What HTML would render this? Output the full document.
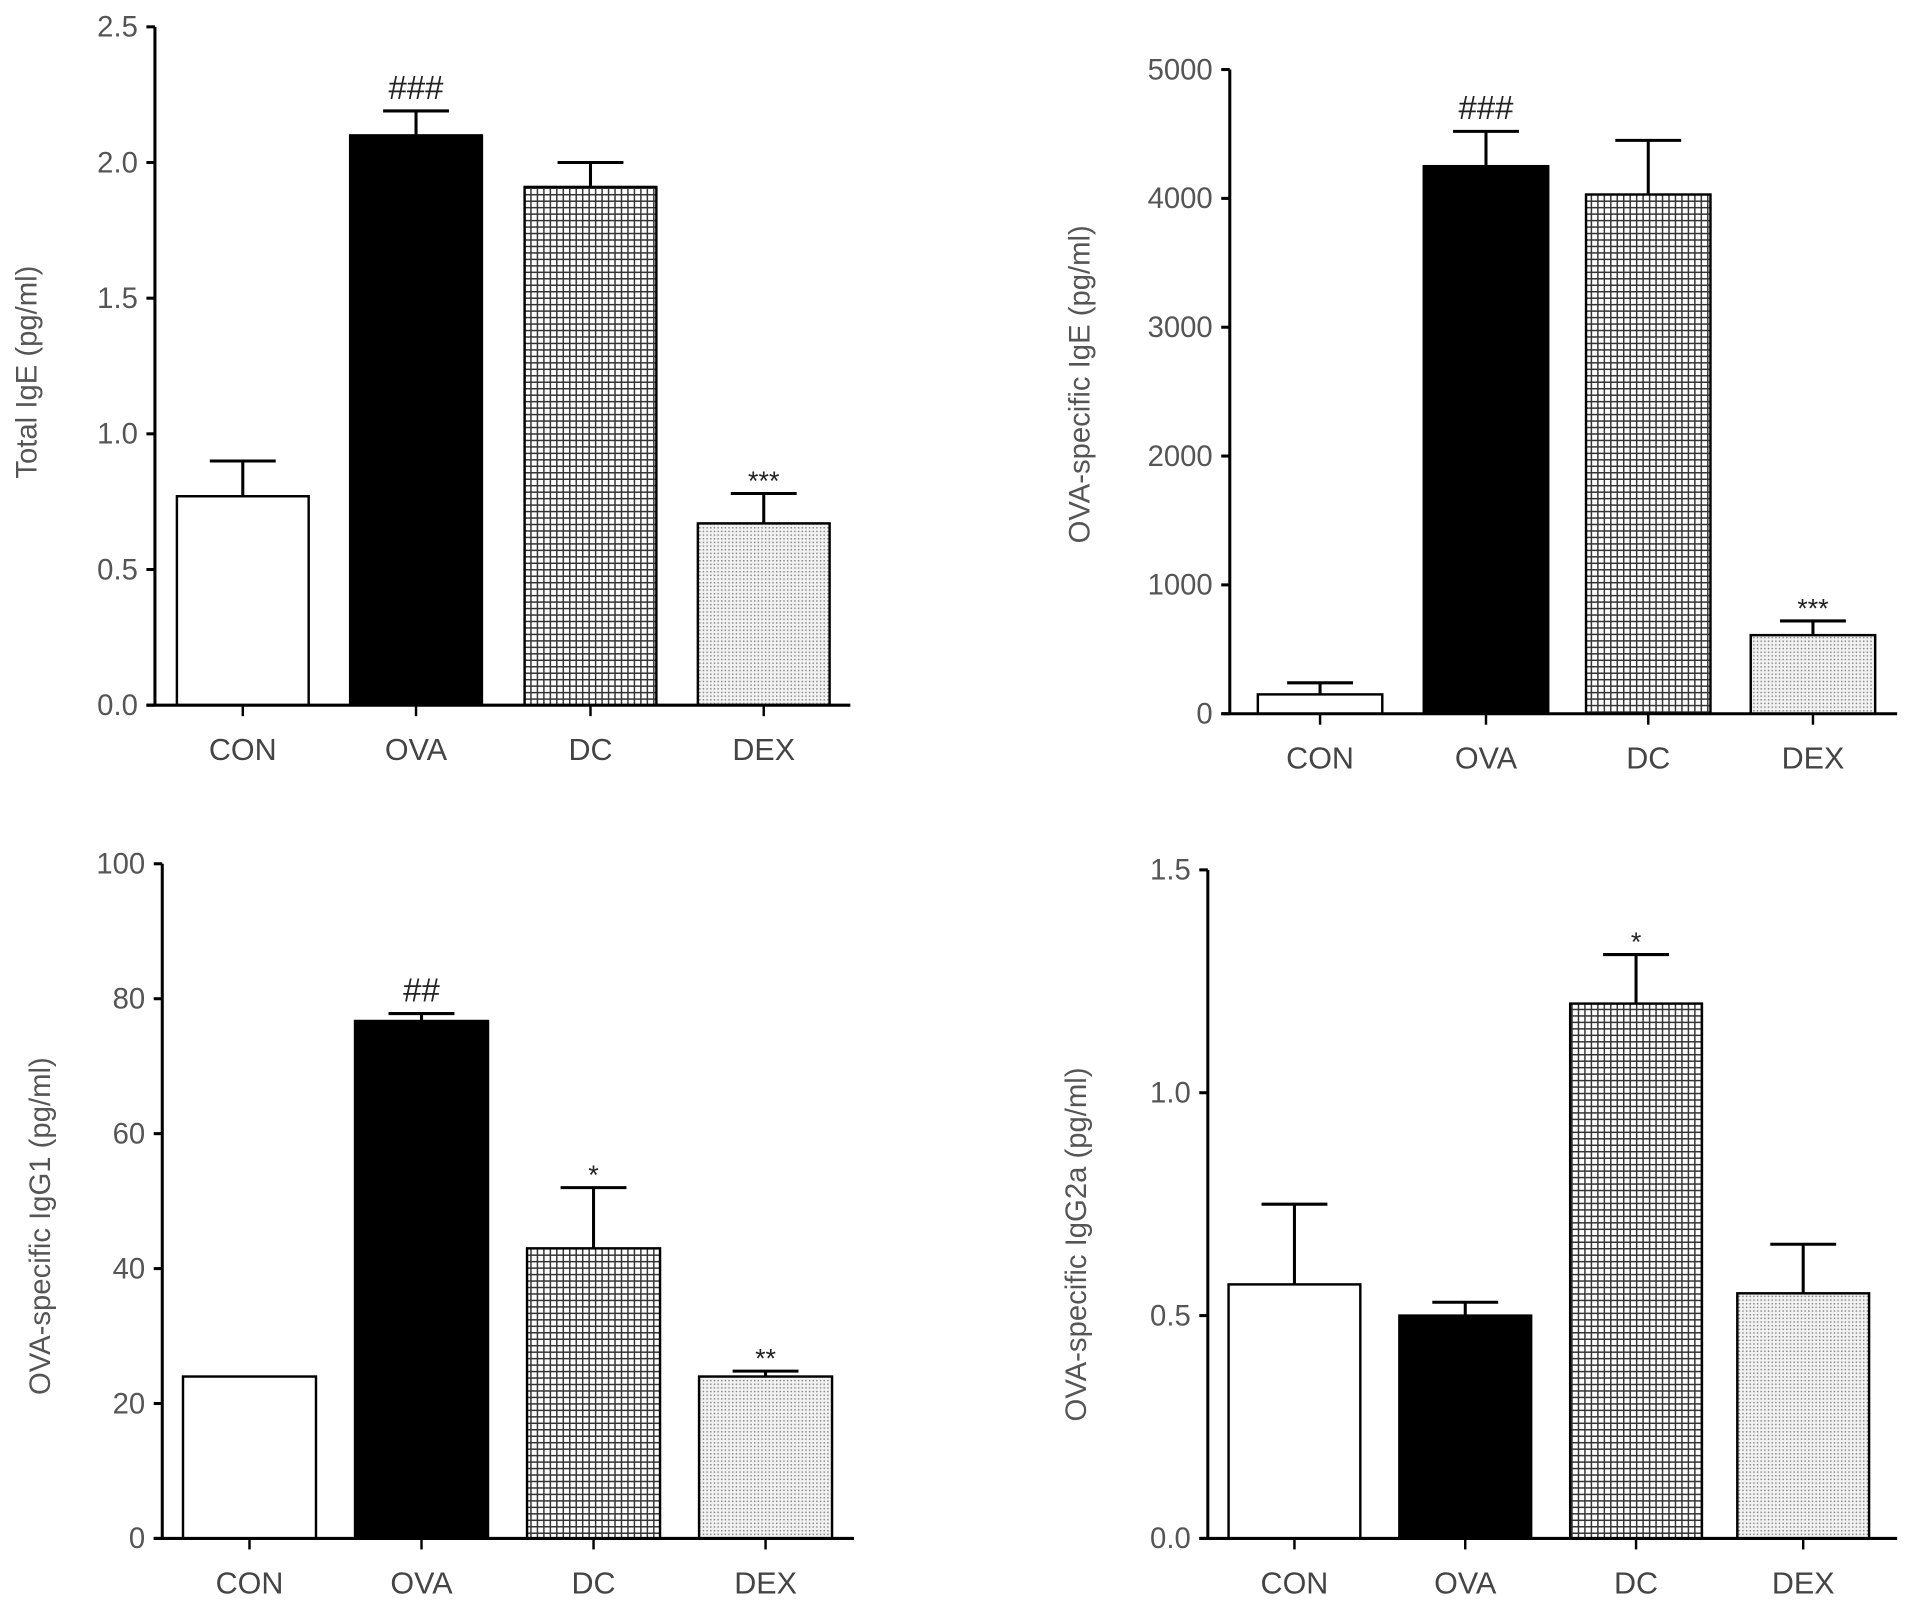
<!DOCTYPE html>
<html><head><meta charset="utf-8"><style>
html,body{margin:0;padding:0;background:#fff}
svg{display:block}
text{font-family:"Liberation Sans",sans-serif}
</style></head><body>
<svg id="fig" width="1913" height="1608" viewBox="0 0 1568 1318" preserveAspectRatio="none" xmlns="http://www.w3.org/2000/svg">
<defs>
<pattern id="grid" width="5.3" height="5.3" patternUnits="userSpaceOnUse">
<rect width="5.3" height="5.3" fill="#fff"/>
<path d="M0 0.6H5.3M0.6 0V5.3" stroke="#333" stroke-width="1.2"/>
</pattern>
<pattern id="dots" width="3" height="3" patternUnits="userSpaceOnUse">
<rect width="3" height="3" fill="#f2f2f2"/>
<rect x="0" y="0" width="1.2" height="1.2" fill="#888"/>
</pattern>
</defs>
</svg>
<script>
const categories = ["CON","OVA","DC","DEX"];
const fills = ["#fff","#000","url(#grid)","url(#dots)"];

const p1Values = [0.77, 2.10, 1.91, 0.67];
const p1Errors = [0.13, 0.09, 0.09, 0.11];
const p1Ticks = ["0.0","0.5","1.0","1.5","2.0","2.5"];
const p1TickValues = [0,0.5,1.0,1.5,2.0,2.5];
const p1Marks = ["","###","","***"];

const p2Values = [150, 4250, 4030, 610];
const p2Errors = [90, 270, 420, 110];
const p2Ticks = ["0","1000","2000","3000","4000","5000"];
const p2TickValues = [0,1000,2000,3000,4000,5000];
const p2Marks = ["","###","","***"];

const p3Values = [24, 76.7, 43, 24];
const p3Errors = [0, 1.1, 9, 0.8];
const p3Ticks = ["0","20","40","60","80","100"];
const p3TickValues = [0,20,40,60,80,100];
const p3Marks = ["","##","*","**"];

const p4Values = [0.57, 0.50, 1.20, 0.55];
const p4Errors = [0.18, 0.03, 0.11, 0.11];
const p4Ticks = ["0.0","0.5","1.0","1.5"];
const p4TickValues = [0,0.5,1.0,1.5];
const p4Marks = ["","","*",""];

const svg = document.getElementById('fig');
const NS = "http://www.w3.org/2000/svg";
function mk(tag, attrs, parent){
  const e = document.createElementNS(NS, tag);
  for (const k in attrs) e.setAttribute(k, attrs[k]);
  (parent||svg).appendChild(e);
  return e;
}

function panel(cfg, values, errors, ticks, tickValues, marks){
  const g = mk('g', {});
  
  
  const ymax = tickValues[tickValues.length-1];
  const y = v => cfg.y0 - (v/ymax)*(cfg.y0-cfg.yTop);
  values.forEach((v,i)=>{
    const x0 = cfg.barX[i];
    const r = mk('rect', {x:x0, y:y(v), width:cfg.bw, height:cfg.y0-y(v), fill:fills[i], stroke:'#000', 'stroke-width':2}, g);
    
    
    const cx = x0 + cfg.bw/2;
    if (errors[i] > 0){
      const top = y(v+errors[i]);
      const e = mk('path', {d:`M${cx} ${y(v)}V${top}M${cx-27} ${top}H${cx+27}`, stroke:'#000', 'stroke-width':2.5, fill:'none'}, g);
      
      
    }
    if (marks[i]){
      const isStar = marks[i].indexOf('*')>=0;
      const t = mk('text', {x:cx, y:y(v+errors[i]) - (isStar?3:10), 'text-anchor':'middle', 'font-size': isStar?22:27, fill:'#222'}, g);
      t.textContent = marks[i];
      
      
    }
    mk('line', {x1:cx, x2:cx, y1:cfg.y0, y2:cfg.y0+9, stroke:'#000','stroke-width':2}, g);
    const lab = mk('text', {x:cx, y:cfg.y0+45, 'text-anchor':'middle', 'font-size':25, fill:'#444'}, g);
    lab.textContent = categories[i];
    
    
  });
  const ax = mk('path', {d:`M${cfg.ax} ${cfg.yTop}V${cfg.y0}M${cfg.ax-7} ${cfg.y0}H${cfg.xEnd}`, stroke:'#000','stroke-width':2.5, fill:'none'}, g);
  
  
  tickValues.forEach((tv,k)=>{
    mk('line', {x1:cfg.ax-7, x2:cfg.ax, y1:y(tv), y2:y(tv), stroke:'#000','stroke-width':2.5}, g);
    const t = mk('text', {x:cfg.ax-14, y:y(tv)+8, 'text-anchor':'end', 'font-size':24, fill:'#555'}, g);
    t.textContent = ticks[k];
    
    
  });
  const tt = mk('text', {x:cfg.titleX, y:cfg.titleY, 'text-anchor':'middle', 'font-size':24, fill:'#555', transform:`rotate(-90 ${cfg.titleX} ${cfg.titleY})`}, g);
  tt.textContent = cfg.title;
  
  
}

panel({name:'panel-total-ige', ax:127, yTop:22, y0:578, xEnd:697, bw:108, barX:[145,287,430,572], titleX:30, titleY:305, title:'Total IgE (pg/ml)'}, p1Values, p1Errors, p1Ticks, p1TickValues, p1Marks);
panel({name:'panel-ova-ige', ax:1008, yTop:57, y0:585, xEnd:1555, bw:102, barX:[1031,1167,1300,1435], titleX:893, titleY:315, title:'OVA-specific IgE (pg/ml)'}, p2Values, p2Errors, p2Ticks, p2TickValues, p2Marks);
panel({name:'panel-ova-igg1', ax:133, yTop:708, y0:1261, xEnd:700, bw:109, barX:[150,291,432,573], titleX:41, titleY:1005, title:'OVA-specific IgG1 (pg/ml)'}, p3Values, p3Errors, p3Ticks, p3TickValues, p3Marks);
panel({name:'panel-ova-igg2a', ax:990, yTop:713, y0:1261, xEnd:1555, bw:108, barX:[1007,1147,1287,1424], titleX:890, titleY:1020, title:'OVA-specific IgG2a (pg/ml)'}, p4Values, p4Errors, p4Ticks, p4TickValues, p4Marks);
</script>
</body></html>
